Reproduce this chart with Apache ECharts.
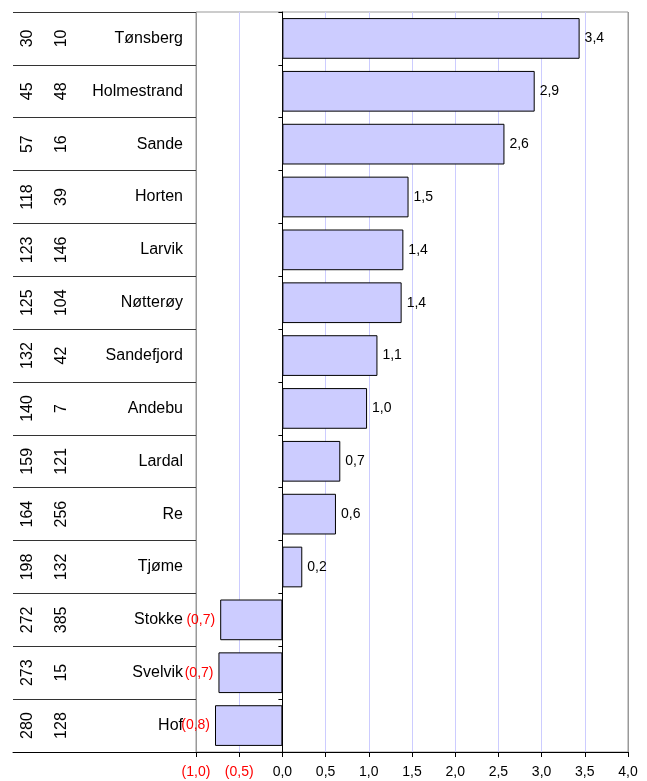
<!DOCTYPE html>
<html>
<head>
<meta charset="utf-8">
<script src="https://cdn.jsdelivr.net/npm/echarts@6/dist/echarts.min.js"></script>
<style>
  html, body { margin: 0; padding: 0; background: #fff; }
  #chart { width: 647px; height: 781px; }
</style>
</head>
<body>
<div id="chart"></div>
<script>
    // kommuner, rangering og verdier
    let names = ['Tønsberg', 'Holmestrand', 'Sande', 'Horten', 'Larvik', 'Nøtterøy', 'Sandefjord',
        'Andebu', 'Lardal', 'Re', 'Tjøme', 'Stokke', 'Svelvik', 'Hof']
    let rank1 = ['30', '45', '57', '118', '123', '125', '132', '140', '159', '164', '198', '272', '273', '280']
    let rank2 = ['10', '48', '16', '39', '146', '104', '42', '7', '121', '256', '132', '385', '15', '128']
    let values = [3.44, 2.92, 2.57, 1.46, 1.40, 1.38, 1.10, 0.98, 0.67, 0.62, 0.23, -0.72, -0.74, -0.78]

    let font = 'Liberation Sans, Arial, sans-serif'

    function fmt(v) {
        return Math.abs(v).toFixed(1).replace('.', ',')
    }

    let barData = values.map(function (v) {
        if (v < 0) {
            return {
                value: v,
                label: {position: 'left', color: '#ff0000'}
            }
        }
        return {value: v}
    })

    // gridlinjer: grå kant ytterst, lilla innimellom
    let splitColors = ['#999999']
    for (let i = 0; i < 9; i++) {
        splitColors.push('#ccccff')
    }
    splitColors.push('#999999')

    let option = {
        animation: false,
        grid: [{
            left: 196,
            right: 19,
            top: 12,
            bottom: 29,
            show: true,
            borderColor: '#999',
            borderWidth: 1
        }, {
            left: 13,
            right: 451,
            top: 12,
            bottom: 29
        }],
        xAxis: [
            {
                type: 'value',
                gridIndex: 0,
                min: -1,
                max: 4,
                interval: 0.5,
                axisLine: {show: true, onZero: false, lineStyle: {color: '#000'}},
                axisTick: {show: true, length: 5, lineStyle: {color: '#000'}},
                splitLine: {show: true, lineStyle: {color: splitColors}},
                axisLabel: {
                    margin: 13,
                    fontSize: 14,
                    fontFamily: font,
                    color: '#000',
                    formatter: function (v) {
                        if (v < 0) {
                            return '{neg|(' + fmt(v) + ')}'
                        }
                        return fmt(v)
                    },
                    rich: {
                        neg: {color: '#ff0000', fontSize: 14, fontFamily: font}
                    }
                }
            },
            {
                type: 'value',
                gridIndex: 1,
                min: 0,
                max: 1,
                axisLine: {show: true, onZero: false, lineStyle: {color: '#000'}},
                axisTick: {show: false},
                axisLabel: {show: false},
                splitLine: {show: false}
            }
        ],
        yAxis: [
            {
                type: 'category',
                gridIndex: 0,
                inverse: true,
                data: names,
                axisLine: {show: true, onZero: true, lineStyle: {color: '#000'}},
                axisTick: {show: true, length: 4, lineStyle: {color: '#000'}},
                axisLabel: {show: false}
            },
            {
                // navn
                type: 'category',
                gridIndex: 1,
                position: 'right',
                inverse: true,
                data: names,
                axisLine: {show: false, onZero: false},
                axisTick: {show: false},
                splitLine: {show: true, lineStyle: {color: '#333'}},
                axisLabel: {
                    inside: true,
                    margin: 13,
                    fontSize: 16,
                    fontFamily: font,
                    color: '#000'
                }
            },
            {
                type: 'category',
                gridIndex: 1,
                position: 'left',
                inverse: true,
                data: rank1,
                axisLine: {show: false, onZero: false},
                axisTick: {show: false},
                axisLabel: {
                    inside: true,
                    rotate: 90,
                    margin: 7,
                    fontSize: 16,
                    fontFamily: font,
                    color: '#000'
                }
            },
            {
                type: 'category',
                gridIndex: 1,
                position: 'left',
                inverse: true,
                data: rank2,
                axisLine: {show: false, onZero: false},
                axisTick: {show: false},
                axisLabel: {
                    inside: true,
                    rotate: 90,
                    margin: 41,
                    fontSize: 16,
                    fontFamily: font,
                    color: '#000'
                }
            }
        ],
        series: [{
            type: 'bar',
            xAxisIndex: 0,
            yAxisIndex: 0,
            data: barData,
            barCategoryGap: '23%',
            itemStyle: {
                color: '#ccccff',
                borderColor: '#000',
                borderWidth: 1
            },
            label: {
                show: true,
                position: 'right',
                distance: 5,
                fontSize: 14,
                fontFamily: font,
                color: '#000',
                formatter: function (p) {
                    if (p.value < 0) {
                        return '(' + fmt(p.value) + ')'
                    }
                    return fmt(p.value)
                }
            }
        }]
    }

    let myChart = echarts.init(document.getElementById('chart'))
    myChart.setOption(option)
</script>
</body>
</html>
